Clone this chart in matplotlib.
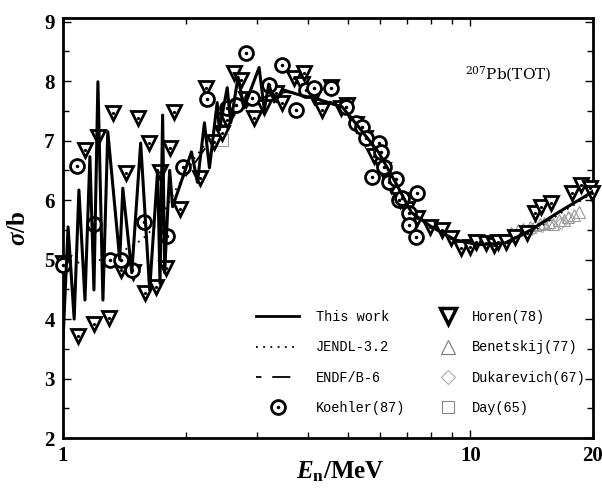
import numpy as np
import matplotlib
matplotlib.use("Agg")
import matplotlib.pyplot as plt
from matplotlib.lines import Line2D
from matplotlib.ticker import FixedLocator, NullFormatter

plt.rcParams['font.family'] = ['Liberation Serif', 'DejaVu Serif']
plt.rcParams['mathtext.fontset'] = 'custom'
plt.rcParams['mathtext.rm'] = 'Liberation Serif:bold'
plt.rcParams['mathtext.it'] = 'Liberation Serif:bold:italic'
plt.rcParams['mathtext.bf'] = 'Liberation Serif:bold'

# This work (resonance region then smooth optical-model curve)
work_E = [1.000, 1.029, 1.065, 1.094, 1.132, 1.164, 1.191, 1.218, 1.253, 1.288,
          1.378, 1.402, 1.475, 1.551, 1.632, 1.707, 1.730, 1.756, 1.776, 1.827,
          1.858, 2.067, 2.138, 2.224, 2.288, 2.39, 2.42, 2.53, 2.58, 2.69,
          2.78, 3.03, 3.12, 3.20, 3.30, 3.49, 3.80, 4.20, 4.84, 5.32,
          5.96, 6.56, 7.17, 8.03, 9.19, 10.46, 12.18, 14.1, 16.4, 19.4, 20.0]
work_sig = [3.65, 5.55, 4.00, 6.17, 4.32, 6.73, 4.49, 7.99, 4.32, 7.15,
            5.00, 6.20, 4.78, 6.96, 4.49, 6.50, 4.60, 7.43, 4.78, 6.50,
            5.89, 6.81, 6.30, 7.30, 6.54, 7.64, 7.18, 7.89, 7.30, 8.07,
            7.55, 8.23, 7.52, 7.95, 7.65, 7.85, 7.77, 7.70, 7.57, 7.23,
            6.80, 6.29, 5.79, 5.55, 5.33, 5.25, 5.28, 5.50, 5.79, 6.09, 6.15]

jendl_E = [1.0, 1.1, 1.2, 1.3, 1.4, 1.5, 1.6, 1.7, 1.8, 1.9, 2.0, 2.1, 2.3, 2.5,
           2.8, 3.2, 3.6, 4.2, 4.84, 5.32, 5.96, 6.56, 7.17, 8.03, 9.19, 10.46,
           12.18, 14.1, 16.4, 20.0]
jendl_sig = [4.95, 4.95, 4.97, 5.05, 5.15, 5.25, 5.40, 5.60, 5.90, 6.20, 6.45,
             6.70, 7.05, 7.30, 7.60, 7.78, 7.82, 7.72, 7.55, 7.22, 6.78, 6.28,
             5.80, 5.55, 5.32, 5.22, 5.25, 5.45, 5.75, 6.12]

endf_E = [2.0, 2.3, 2.6, 3.0, 3.5, 4.2, 4.84, 5.32, 5.96, 6.56, 7.17, 8.03,
          9.19, 10.46, 12.18, 14.1, 16.4, 20.0]
endf_sig = [6.40, 7.00, 7.40, 7.70, 7.82, 7.74, 7.58, 7.25, 6.82, 6.30,
            5.82, 5.56, 5.34, 5.24, 5.27, 5.48, 5.78, 6.14]

horen_E = [1.0, 1.088, 1.132, 1.191, 1.218, 1.296, 1.325, 1.386, 1.426, 1.483,
           1.525, 1.587, 1.623, 1.688, 1.726, 1.786, 1.827, 1.868, 1.932, 2.163,
           2.25, 2.353, 2.45, 2.53, 2.63, 2.74, 2.82, 2.95, 3.12, 3.33,
           3.45, 3.69, 3.86, 3.90, 4.13, 4.33, 4.54, 4.81, 4.97, 5.24,
           5.50, 5.80, 6.10, 6.40, 6.70, 7.00, 7.40, 7.97, 8.50, 8.94,
           9.50, 10.0, 10.3, 10.9, 11.4, 11.7, 12.2, 12.9, 13.8, 14.4,
           14.9, 15.8, 17.8, 18.7, 19.7, 19.9]
horen_sig = [4.95, 3.72, 6.85, 3.92, 7.06, 4.02, 7.47, 4.83, 6.46, 4.79,
             7.38, 4.44, 6.96, 4.54, 6.48, 4.86, 6.88, 7.49, 5.85, 6.37,
             7.89, 6.98, 7.13, 7.35, 8.14, 8.02, 7.70, 7.38, 7.57, 7.80,
             7.64, 8.06, 7.95, 8.14, 7.75, 7.52, 7.91, 7.55, 7.60, 7.28,
             7.05, 6.75, 6.50, 6.25, 6.00, 5.85, 5.70, 5.55, 5.50, 5.37,
             5.20, 5.22, 5.30, 5.28, 5.25, 5.30, 5.30, 5.38, 5.45, 5.79,
             5.89, 5.95, 6.12, 6.26, 6.20, 6.12]

koehler_E = [1.0, 1.082, 1.191, 1.303, 1.39, 1.475, 1.578, 1.796, 1.965, 2.26,
             2.53, 2.66, 2.81, 2.91, 3.20, 3.45, 3.73, 3.95, 4.13, 4.54,
             4.94, 5.24, 5.41, 5.55, 5.73, 5.96, 6.05, 6.13, 6.30, 6.56,
             6.67, 6.79, 7.05, 7.05, 7.34, 7.38]
koehler_sig = [4.91, 6.58, 5.60, 5.00, 5.00, 4.83, 5.63, 5.40, 6.56, 7.70,
               7.55, 7.60, 8.48, 7.72, 7.94, 8.28, 7.52, 7.86, 7.89, 7.89,
               7.57, 7.30, 7.23, 7.05, 6.39, 6.96, 6.81, 6.55, 6.31, 6.36,
               6.00, 6.04, 5.79, 5.58, 5.38, 6.12]

benet_E = [12.6, 13.1, 13.5, 14.0, 14.4, 14.8, 15.2, 15.6, 16.0, 16.5, 17.0,
           17.4, 18.0, 18.5]
benet_sig = [5.45, 5.50, 5.52, 5.55, 5.58, 5.60, 5.62, 5.63, 5.60, 5.66, 5.67,
             5.72, 5.75, 5.80]

dukar_E = [14.2, 15.0, 15.8, 16.7, 17.5]
dukar_sig = [5.52, 5.57, 5.60, 5.62, 5.70]

day_E = [2.46]
day_sig = [7.01]

fig = plt.figure(figsize=(6.02, 4.90), dpi=100)
ax = fig.add_axes([0.1047, 0.106, 0.8803, 0.857])

ax.plot(jendl_E, jendl_sig, color='black', ls=(0, (1, 3)), lw=1.3, zorder=3)
ax.plot(endf_E, endf_sig, color='black', ls=(0, (3, 6, 10, 6)), lw=1.3, zorder=3)

ax.plot(benet_E, benet_sig, ls='none', marker='^', ms=9, mfc='none', mec='#999999',
        mew=0.8, zorder=2)
ax.plot(dukar_E, dukar_sig, ls='none', marker='D', ms=6.5, mfc='none', mec='#aaaaaa',
        mew=0.8, zorder=2)
ax.plot(day_E, day_sig, ls='none', marker='s', ms=8, mfc='none', mec='#999999',
        mew=0.8, zorder=2)

ax.plot(horen_E, horen_sig, ls='none', marker='v', ms=10, mfc='white', mec='black',
        mew=2, zorder=4, clip_on=False)
ax.plot(horen_E, horen_sig, ls='none', marker='.', ms=2.5, color='black', zorder=4,
        clip_on=False)
ax.plot(koehler_E, koehler_sig, ls='none', marker='o', ms=10, mfc='white', mec='black',
        mew=2, zorder=4, clip_on=False)
ax.plot(koehler_E, koehler_sig, ls='none', marker='.', ms=3, color='black', zorder=4,
        clip_on=False)

ax.plot(work_E, work_sig, color='black', lw=2.2, zorder=5)

ax.set_xscale('log')
ax.set_xlim(1, 20)
ax.set_ylim(2, 9.06)
ax.xaxis.set_major_locator(FixedLocator([1, 10, 20]))
ax.xaxis.set_minor_locator(FixedLocator([2, 3, 4, 5, 6, 7, 8, 9]))
ax.xaxis.set_minor_formatter(NullFormatter())
ax.set_xticklabels(['1', '10', '20'])
ax.set_yticks([2, 3, 4, 5, 6, 7, 8, 9])
ax.set_yticks(np.arange(2.5, 9, 1.0), minor=True)
ax.tick_params(which='both', direction='in', top=True, right=True, width=1)
ax.tick_params(which='major', length=6, labelsize=15, pad=6)
ax.tick_params(which='minor', length=4)
for lab in ax.get_xticklabels() + ax.get_yticklabels():
    lab.set_fontweight('bold')
for sp in ax.spines.values():
    sp.set_linewidth(2)

ax.set_xlabel(r'$E_\mathrm{n}$/MeV', fontsize=18, fontweight='bold')
ax.xaxis.set_label_coords(0.523, -0.052)
ax.set_ylabel(r'$\sigma$/b', fontsize=18, fontweight='bold')
ax.yaxis.set_label_coords(-0.062, 0.5)

ax.text(0.758, 0.855, r'$^{207}$Pb(TOT)', transform=ax.transAxes, fontsize=11,
        family='DejaVu Serif', fontweight='normal', math_fontfamily='dejavuserif')

h_work = Line2D([], [], color='black', lw=2)
h_jendl = Line2D([], [], color='black', ls=(0, (1, 3)), lw=1.3)
h_endf = Line2D([], [], color='black', ls=(0, (3, 6, 10, 6)), lw=1.3)
h_koe = (Line2D([], [], ls='none', marker='o', ms=10, mfc='white', mec='black', mew=2),
         Line2D([], [], ls='none', marker='.', ms=3, color='black'))
h_hor = Line2D([], [], ls='none', marker='v', ms=11, mfc='white', mec='black', mew=2.5)
h_ben = Line2D([], [], ls='none', marker='^', ms=10, mfc='none', mec='#777777', mew=0.8)
h_duk = Line2D([], [], ls='none', marker='D', ms=7, mfc='none', mec='#aaaaaa', mew=0.8)
h_day = Line2D([], [], ls='none', marker='s', ms=8, mfc='none', mec='#888888', mew=0.8)

leg_prop = {'family': 'Liberation Mono', 'size': 9.8}
leg1 = ax.legend([h_work, h_jendl, h_endf, h_koe],
                 ['This work', 'JENDL-3.2', 'ENDF/B-6', 'Koehler(87)'],
                 frameon=False, loc='upper left', bbox_to_anchor=(0.364, 0.305),
                 prop=leg_prop, handlelength=3.2, handletextpad=1.2,
                 labelspacing=1.2, borderpad=0, borderaxespad=0)
ax.add_artist(leg1)
ax.legend([h_hor, h_ben, h_duk, h_day],
          ['Horen(78)', 'Benetskij(77)', 'Dukarevich(67)', 'Day(65)'],
          frameon=False, loc='upper left', bbox_to_anchor=(0.707, 0.305),
          prop=leg_prop, handlelength=1.5, handletextpad=1.0,
          labelspacing=1.2, borderpad=0, borderaxespad=0)

fig.savefig('out.png', dpi=100)
